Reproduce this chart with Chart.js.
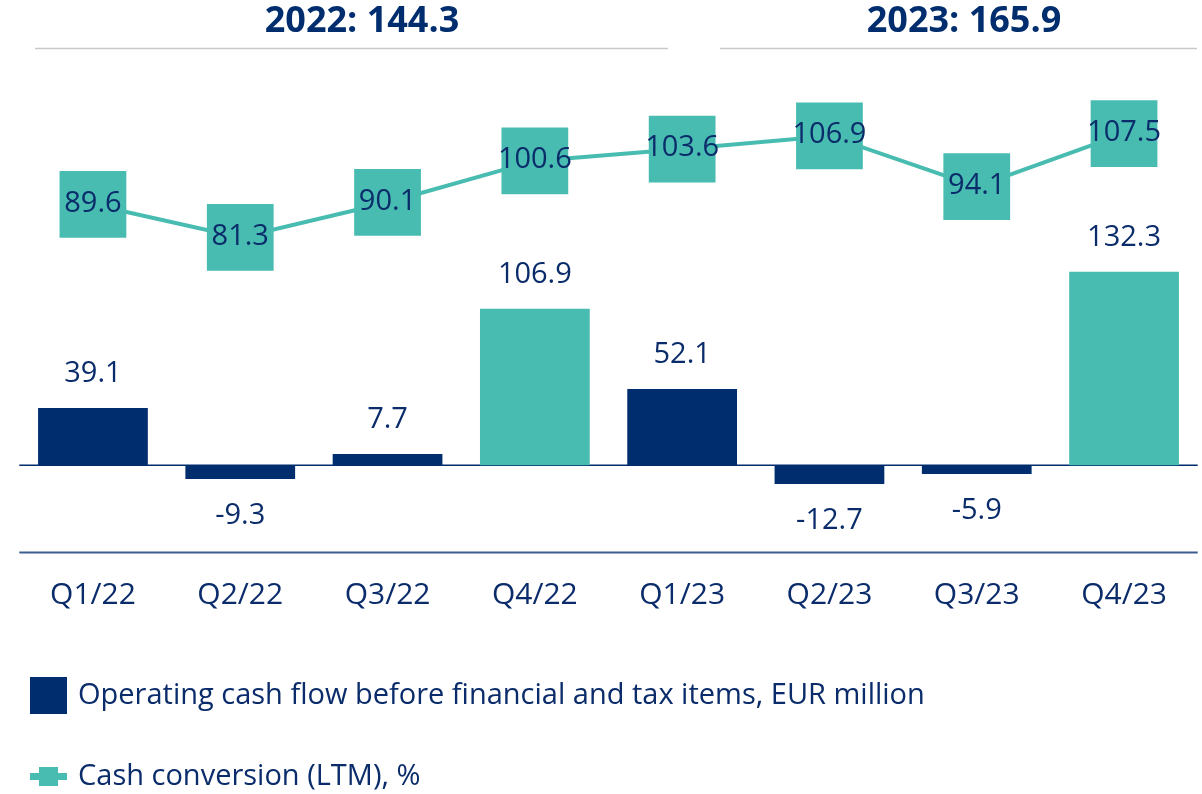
<!DOCTYPE html>
<html>
<head>
<meta charset="utf-8">
<script src="https://cdn.jsdelivr.net/npm/chart.js@4"></script>
<style>
  html, body { margin: 0; padding: 0; background: #fff; }
</style>
</head>
<body>
<canvas id="cashChart" width="1202" height="794"></canvas>
<script>
// Data
const quarters = ['Q1/22', 'Q2/22', 'Q3/22', 'Q4/22', 'Q1/23', 'Q2/23', 'Q3/23', 'Q4/23'];
const operatingCashFlow = [39.1, -9.3, 7.7, 106.9, 52.1, -12.7, -5.9, 132.3];
const cashConversion = [89.6, 81.3, 90.1, 100.6, 103.6, 106.9, 94.1, 107.5];
const yearTitles = ['2022: 144.3', '2023: 165.9'];
const legendLabels = ['Operating cash flow before financial and tax items, EUR million', 'Cash conversion (LTM), %'];

const NAVY = '#002d6e';
const TEXT = '#0b2c6a';
const TEAL = '#48bcb0';
const FONT = '"Open Sans", "Noto Sans", sans-serif';

// подписи, линии, заголовки и легенда
const decorPlugin = {
  id: 'decor',
  beforeDatasetsDraw(chart) {
    const { ctx, chartArea, scales } = chart;
    const y0 = scales.y.getPixelForValue(0);
    ctx.save();
    ctx.strokeStyle = NAVY;
    ctx.lineWidth = 1.5;
    ctx.beginPath();
    ctx.moveTo(chartArea.left, y0);
    ctx.lineTo(chartArea.right, y0);
    ctx.stroke();
    ctx.strokeStyle = '#3c5d8e';
    ctx.lineWidth = 2;
    ctx.beginPath();
    ctx.moveTo(chartArea.left, chartArea.bottom);
    ctx.lineTo(chartArea.right, chartArea.bottom);
    ctx.stroke();
    ctx.restore();
  },
  afterDatasetsDraw(chart) {
    const ctx = chart.ctx;
    ctx.save();
    ctx.fillStyle = TEXT;
    ctx.font = '29px ' + FONT;
    ctx.textAlign = 'center';
    ctx.textBaseline = 'middle';
    // значения столбцов
    chart.getDatasetMeta(1).data.forEach((bar, i) => {
      const v = operatingCashFlow[i];
      const y = v >= 0 ? bar.y - 34 : bar.y + 37;
      ctx.fillText(v.toFixed(1), bar.x, y);
    });
    // значения линии
    chart.getDatasetMeta(0).data.forEach((pt, i) => {
      ctx.fillText(cashConversion[i].toFixed(1), pt.x, pt.y - 1);
    });
    ctx.restore();
  },
  afterDraw(chart) {
    const ctx = chart.ctx;
    ctx.save();
    // заголовки по годам
    const heads = [
      { cx: 362, x1: 35, x2: 668 },
      { cx: 964, x1: 720, x2: 1197 },
    ];
    ctx.font = 'bold 36px ' + FONT;
    ctx.fillStyle = NAVY;
    ctx.textAlign = 'center';
    ctx.textBaseline = 'middle';
    heads.forEach((h, i) => {
      ctx.fillText(yearTitles[i], h.cx, 22);
      ctx.strokeStyle = '#c8c8c8';
      ctx.lineWidth = 1.5;
      ctx.beginPath();
      ctx.moveTo(h.x1, 48.5);
      ctx.lineTo(h.x2, 48.5);
      ctx.stroke();
    });
    // легенда
    ctx.fillStyle = NAVY;
    ctx.fillRect(30, 677, 37, 37);
    ctx.strokeStyle = TEAL;
    ctx.lineWidth = 7;
    ctx.beginPath();
    ctx.moveTo(30, 776.5);
    ctx.lineTo(67, 776.5);
    ctx.stroke();
    ctx.fillStyle = TEAL;
    ctx.fillRect(39, 767, 19, 19);
    ctx.fillStyle = TEXT;
    ctx.font = '29px ' + FONT;
    ctx.textAlign = 'left';
    ctx.fillText(legendLabels[0], 78, 696);
    ctx.fillText(legendLabels[1], 78, 777);
    ctx.restore();
  },
};

new Chart(document.getElementById('cashChart'), {
  data: {
    labels: quarters,
    datasets: [
      {
        type: 'line',
        label: legendLabels[1],
        data: cashConversion,
        yAxisID: 'y1',
        order: 0,
        borderColor: TEAL,
        borderWidth: 4,
        pointStyle: 'rect',
        pointRadius: 47.2,
        pointHoverRadius: 47.2,
        pointBackgroundColor: TEAL,
        pointBorderWidth: 0,
        tension: 0,
      },
      {
        type: 'bar',
        label: legendLabels[0],
        data: operatingCashFlow,
        yAxisID: 'y',
        order: 1,
        backgroundColor: (c) => (c.dataIndex % 4 === 3 ? TEAL : NAVY),
        categoryPercentage: 1,
        barPercentage: 0.745,
      },
    ],
  },
  options: {
    responsive: false,
    animation: false,
    layout: {
      autoPadding: false,
      padding: { left: 19.3, right: 4.3, top: 60, bottom: 155.4 },
    },
    plugins: {
      legend: { display: false },
      tooltip: { enabled: false },
    },
    scales: {
      x: {
        grid: { display: false, drawTicks: false },
        border: { display: false },
        ticks: { color: TEXT, font: { size: 30, family: FONT }, padding: 25 },
      },
      y: { display: false, min: -59.6, max: 276.9 },
      y1: { display: false, min: 1.75, max: 126.06 },
    },
  },
  plugins: [decorPlugin],
});
</script>
</body>
</html>
